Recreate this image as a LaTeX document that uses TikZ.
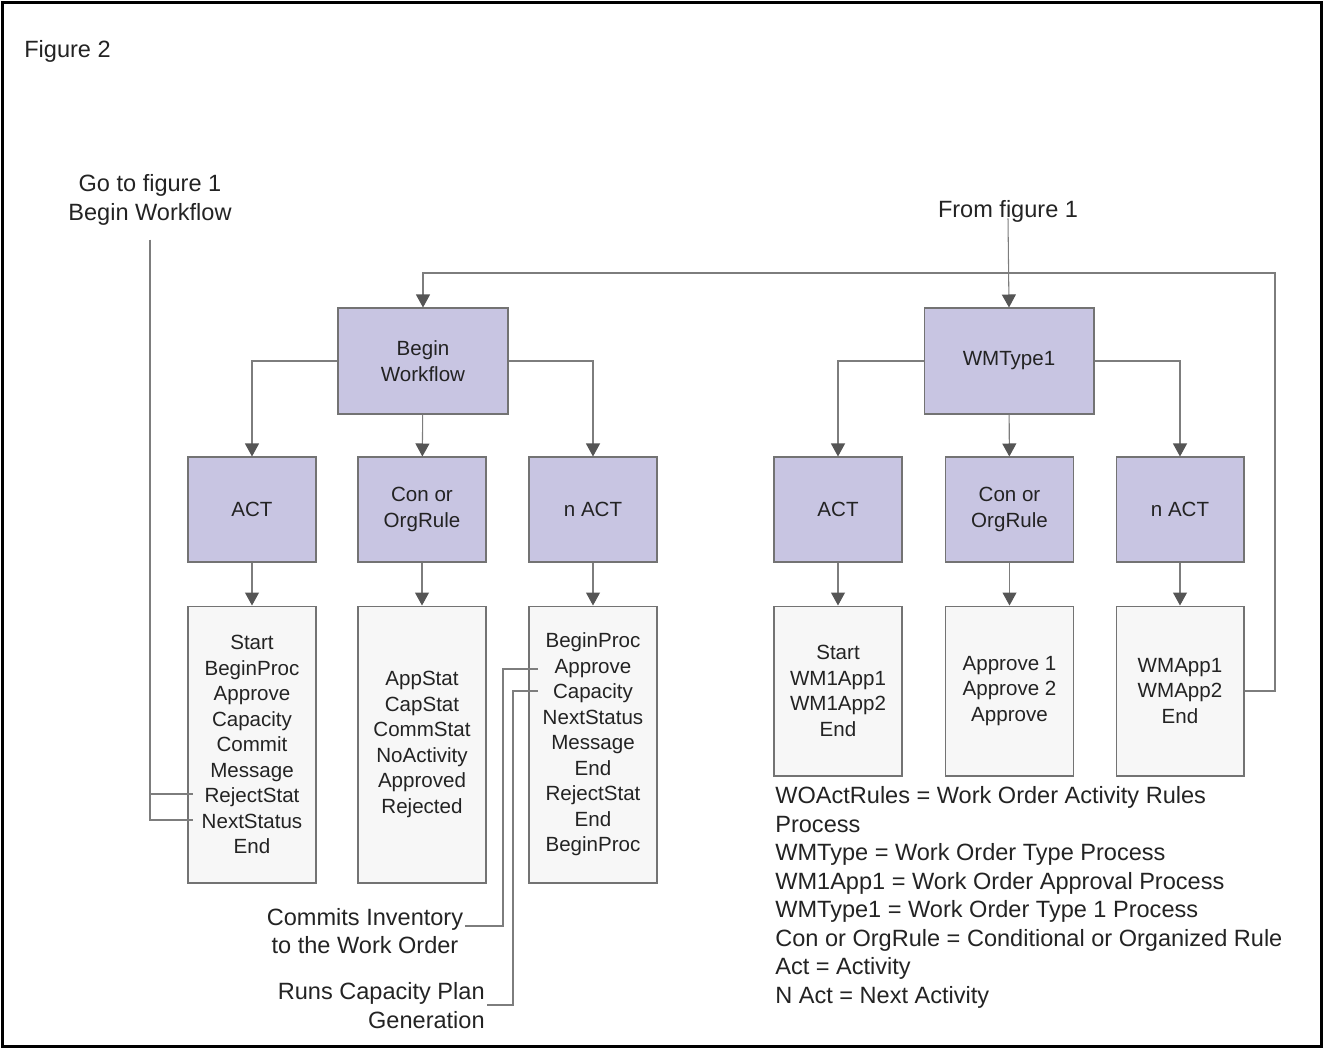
\documentclass[tikz,border=0pt]{standalone}
\usepackage{fontspec}
\setmainfont{Liberation Sans}
\usetikzlibrary{arrows.meta}
\newcommand{\boxfont}{\fontsize{11.7}{14.5}\selectfont}
\newcommand{\lblfont}{\fontsize{13.4}{16.2}\selectfont}

\begin{document}
\begin{tikzpicture}[x=0.02cm,y=-0.02cm,
    line/.style={draw=linegray,line width=0.6pt},
    conn/.style={line,-{Triangle[length=0.26cm,width=0.28cm,color=tipgray]}},
    top/.style={draw=boxline,fill=lav,line width=0.6pt,minimum width=3.4cm,minimum height=2.12cm,align=center,font=\boxfont,text=ink},
    sub/.style={top,minimum width=2.56cm,minimum height=2.1cm},
    list/.style={draw=boxline,fill=pale,line width=0.6pt,minimum width=2.56cm,align=center,font=\boxfont,text=ink},
    lbl/.style={font=\lblfont,text=ink,inner sep=0}]
    \definecolor{lav}{RGB}{200,197,226}
    \definecolor{pale}{RGB}{247,247,247}
    \definecolor{boxline}{RGB}{115,115,115}
    \definecolor{linegray}{RGB}{125,125,125}
    \definecolor{tipgray}{RGB}{85,85,85}
    \definecolor{ink}{RGB}{35,35,35}
    \useasboundingbox (0,0) rectangle (1325,1049);
    \draw[line width=1.7pt] (2.5,2.5) rectangle (1321.5,1046.5);
    % labels
    \node[lbl,anchor=west] (fig) at (24,51) {Figure 2};
    \node[lbl,align=center] (gofig) at (150,200) {Go to figure 1\\Begin Workflow};
    \node[lbl] (fromfig) at (1008,211) {From figure 1};
    % top level
    \node[top] (bw) at (423,361) {Begin\\Workflow};
    \node[top] (wmt) at (1009,361) {WMType1};
    % second level
    \node[sub] (act1) at (252,509.5) {ACT};
    \node[sub] (con1) at (422,509.5) {Con or\\OrgRule};
    \node[sub] (nact1) at (593,509.5) {n ACT};
    \node[sub] (act2) at (838,509.5) {ACT};
    \node[sub] (con2) at (1009.5,509.5) {Con or\\OrgRule};
    \node[sub] (nact2) at (1180,509.5) {n ACT};
    % lists
    \node[list,minimum height=5.54cm] (actl1) at (252,744.5) {Start\\BeginProc\\Approve\\Capacity\\Commit\\Message\\RejectStat\\NextStatus\\End};
    \node[list,minimum height=5.54cm] (conl1) at (422,744.5) {AppStat\\CapStat\\CommStat\\NoActivity\\Approved\\Rejected};
    \node[list,minimum height=5.54cm] (nactl1) at (593,744.5) {BeginProc\\Approve\\Capacity\\NextStatus\\Message\\End\\RejectStat\\End\\BeginProc};
    \node[list,minimum height=3.4cm] (actl2) at (838,691) {Start\\WM1App1\\WM1App2\\End};
    \node[list,minimum height=3.4cm] (conl2) at (1009.5,691) {Approve 1\\Approve 2\\Approve};
    \node[list,minimum height=3.4cm] (nactl2) at (1180,691) {WMApp1\\WMApp2\\End};
    % notes
    \node[lbl,align=center] (commits) at (365,931) {Commits Inventory\\to the Work Order};
    \node[lbl,align=right,anchor=east] (runs) at (485,1005.5) {Runs Capacity Plan\\Generation};
    \node[lbl,align=left,anchor=west] (legend) at (775,897.5) {WOActRules = Work Order Activity Rules\\Process\\WMType = Work Order Type Process\\WM1App1 = Work Order Approval Process\\WMType1 = Work Order Type 1 Process\\Con or OrgRule = Conditional or Organized Rule\\Act = Activity\\N Act = Next Activity};
    \coordinate (rej) at (193,794);
    \coordinate (nxt) at (193,820);
    \coordinate (appr) at (538,669);
    \coordinate (capa) at (538,691);
    \coordinate (cmt) at (465,926);
    \coordinate (run) at (487,1005);
    \coordinate (loop) at (1275,273);
    % connectors
    \draw[conn] (fromfig.south) ++(0,-4) -- (wmt.north);
    \draw[conn] (nactl2.east) -| (loop) -| (bw.north);
    \draw[conn] (bw.west) -| (act1.north);
    \draw[conn] (bw) -- (con1);
    \draw[conn] (bw.east) -| (nact1.north);
    \draw[conn] (wmt.west) -| (act2.north);
    \draw[conn] (wmt) -- (con2);
    \draw[conn] (wmt.east) -| (nact2.north);
    \draw[conn] (act1) -- (actl1);
    \draw[conn] (con1) -- (conl1);
    \draw[conn] (nact1) -- (nactl1);
    \draw[conn] (act2) -- (actl2);
    \draw[conn] (con2) -- (conl2);
    \draw[conn] (nact2) -- (nactl2);
    \draw[line] ([yshift=-8pt]gofig.south) |- (nxt);
    \draw[line] (gofig.south |- rej) -- (rej);
    \draw[line] (appr) -- ++(-35,0) |- (cmt);
    \draw[line] (capa) -- ++(-25,0) |- (run);
\end{tikzpicture}
\end{document}
